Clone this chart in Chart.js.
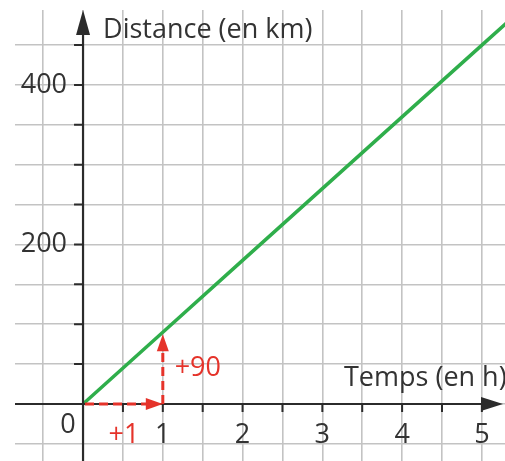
<!DOCTYPE html>
<html>
<head>
<meta charset="utf-8">
<script src="https://cdn.jsdelivr.net/npm/chart.js@4"></script>
<style>
    html, body { margin: 0; padding: 0; background: #fff; }
    #wrap { width: 505px; height: 461px; }
</style>
</head>
<body>
<div id="wrap"><canvas id="chart"></canvas></div>
<script>
// Temps (h) et distance (km)
const temps = [0, 1, 2, 3, 4, 5, 6];
const distance = [0, 90, 180, 270, 360, 450, 540];
const xTickLabels = [1, 2, 3, 4, 5];
const yTickLabels = [200, 400];
const xLabel = 'Temps (en h)';
const yLabel = 'Distance (en km)';

const FONT = '"Open Sans", sans-serif';
const RED = '#e5332a';
const AXIS = '#2b2b2b';

function arrowHead(ctx, x, y, dir, len, half) {
    ctx.beginPath();
    if (dir === 'right') {
        ctx.moveTo(x, y); ctx.lineTo(x - len, y - half); ctx.lineTo(x - len, y + half);
    } else {
        ctx.moveTo(x, y); ctx.lineTo(x - half, y + len); ctx.lineTo(x + half, y + len);
    }
    ctx.closePath();
    ctx.fill();
}

const axesPlugin = {
    id: 'axes',
    afterDatasetsDraw(chart) {
        const ctx = chart.ctx;
        const xs = chart.scales.x, ys = chart.scales.y;
        const x0 = xs.getPixelForValue(0), y0 = ys.getPixelForValue(0);
        const W = chart.width, H = chart.height;
        ctx.save();

        // axes
        ctx.strokeStyle = AXIS; ctx.fillStyle = AXIS; ctx.lineWidth = 2.2;
        ctx.beginPath();
        ctx.moveTo(15, y0); ctx.lineTo(W - 14, y0);
        ctx.moveTo(x0, H); ctx.lineTo(x0, 30);
        ctx.stroke();
        arrowHead(ctx, W - 2, y0, 'right', 22, 7);
        arrowHead(ctx, x0, 10, 'up', 25, 7);

        // graduations
        ctx.lineWidth = 2;
        ctx.beginPath();
        for (let v = 50; v <= 450; v += 50) {
            const p = ys.getPixelForValue(v);
            ctx.moveTo(x0 - 9, p); ctx.lineTo(x0, p);
        }
        for (let v = 0.5; v <= 5; v += 0.5) {
            const p = xs.getPixelForValue(v);
            ctx.moveTo(p, y0); ctx.lineTo(p, y0 + 8);
        }
        ctx.stroke();

        // textes
        ctx.font = '27px ' + FONT;
        ctx.fillStyle = '#333';
        ctx.textBaseline = 'middle';
        ctx.textAlign = 'right';
        yTickLabels.forEach(v => ctx.fillText(String(v), x0 - 16, ys.getPixelForValue(v)));
        ctx.textAlign = 'center';
        xTickLabels.forEach(v => ctx.fillText(String(v), xs.getPixelForValue(v), y0 + 31));
        ctx.fillText('0', x0 - 15, y0 + 21);
        ctx.textAlign = 'left';
        ctx.fillText(yLabel, x0 + 20, 30);
        ctx.fillText(xLabel, 344, y0 - 26);

        // flèches rouges en pointillés
        const x1 = xs.getPixelForValue(1), y90 = ys.getPixelForValue(90);
        ctx.strokeStyle = RED; ctx.fillStyle = RED; ctx.lineWidth = 3;
        ctx.setLineDash([9, 5]);
        ctx.beginPath();
        ctx.moveTo(x0 + 2, y0); ctx.lineTo(x1 - 14, y0);
        ctx.moveTo(x1, y0); ctx.lineTo(x1, y90 + 16);
        ctx.stroke();
        ctx.setLineDash([]);
        arrowHead(ctx, x1, y0, 'right', 17, 6);
        arrowHead(ctx, x1, y90 + 2, 'up', 17, 6);
        ctx.textAlign = 'center';
        ctx.fillText('+90', x1 + 35, y0 - 36);
        ctx.fillText('+1', 124, y0 + 31);

        ctx.restore();
    }
};

new Chart(document.getElementById('chart'), {
    type: 'scatter',
    data: {
        datasets: [{
            data: temps.map((t, i) => ({ x: t, y: distance[i] })),
            showLine: true,
            borderColor: '#2fae4b',
            borderWidth: 3.5,
            pointRadius: 0,
            clip: 0
        }]
    },
    options: {
        responsive: true,
        maintainAspectRatio: false,
        animation: false,
        layout: { padding: { left: 15, top: 10, right: 0, bottom: 0 } },
        plugins: { legend: { display: false }, tooltip: { enabled: false } },
        scales: {
            x: {
                type: 'linear', min: -0.853, max: 5.29,
                ticks: { display: false, stepSize: 0.5, includeBounds: false },
                grid: { color: '#c3c3c3', lineWidth: 1.6, drawTicks: false },
                border: { display: false }
            },
            y: {
                type: 'linear', min: -71.5, max: 494,
                ticks: { display: false, stepSize: 50, includeBounds: false },
                grid: { color: '#c3c3c3', lineWidth: 1.6, drawTicks: false },
                border: { display: false }
            }
        }
    },
    plugins: [axesPlugin]
});
</script>
</body>
</html>
